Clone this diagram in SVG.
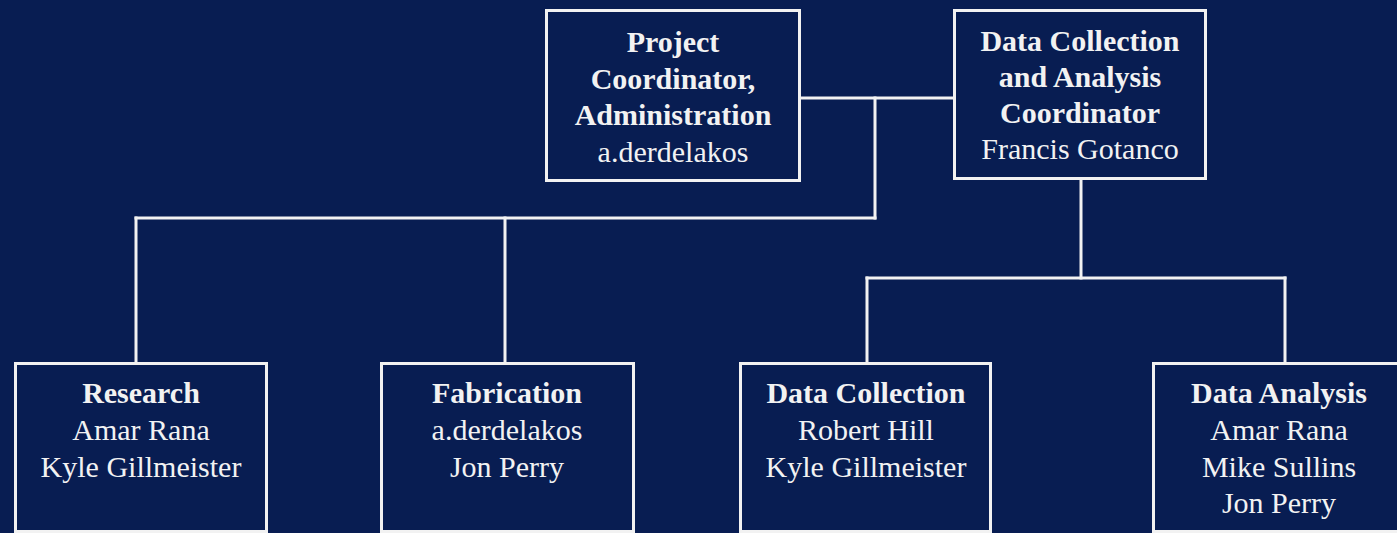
<svg xmlns="http://www.w3.org/2000/svg" width="1397" height="533" viewBox="0 0 1397 533">
<style>
.box{fill:#081d52;stroke:#f2f2f2;stroke-width:3}
.conn line{stroke:#f2f2f2;stroke-width:3;stroke-linecap:square}
text{font-family:"Liberation Serif","Times New Roman",serif;font-size:30px;fill:#f2f2f2;text-anchor:middle}
.b{font-weight:bold}
</style>
<rect width="1397" height="533" fill="#081d52"/>
<g class="conn" id="connectors">
<line x1="801" y1="98" x2="954" y2="98"/>
<line x1="875" y1="98" x2="875" y2="218"/>
<line x1="136" y1="218" x2="875" y2="218"/>
<line x1="136" y1="218" x2="136" y2="363"/>
<line x1="505" y1="218" x2="505" y2="363"/>
<line x1="1081" y1="179" x2="1081" y2="278"/>
<line x1="867" y1="278" x2="1285" y2="278"/>
<line x1="867" y1="278" x2="867" y2="363"/>
<line x1="1285" y1="278" x2="1285" y2="363"/>
</g>
<g id="project-coordinator">
<rect class="box" x="546.5" y="10.5" width="253" height="170"/>
<text x="673" y="52" class="b">Project</text>
<text x="673" y="89" class="b">Coordinator,</text>
<text x="673" y="125" class="b">Administration</text>
<text x="673" y="162">a.derdelakos</text>
</g>
<g id="data-coordinator">
<rect class="box" x="954.5" y="10.5" width="251" height="168"/>
<text x="1080" y="51" class="b">Data Collection</text>
<text x="1080" y="87" class="b">and Analysis</text>
<text x="1080" y="123" class="b">Coordinator</text>
<text x="1080" y="159">Francis Gotanco</text>
</g>
<g id="research">
<rect class="box" x="15.5" y="363.5" width="251" height="168"/>
<text x="141" y="403" class="b">Research</text>
<text x="141" y="440">Amar Rana</text>
<text x="141" y="477">Kyle Gillmeister</text>
</g>
<g id="fabrication">
<rect class="box" x="381.5" y="363.5" width="252" height="168"/>
<text x="507" y="403" class="b">Fabrication</text>
<text x="507" y="440">a.derdelakos</text>
<text x="507" y="477">Jon Perry</text>
</g>
<g id="data-collection">
<rect class="box" x="740.5" y="363.5" width="250" height="168"/>
<text x="866" y="403" class="b">Data Collection</text>
<text x="866" y="440">Robert Hill</text>
<text x="866" y="477">Kyle Gillmeister</text>
</g>
<g id="data-analysis">
<rect class="box" x="1153.5" y="363.5" width="252" height="168"/>
<text x="1279" y="403" class="b">Data Analysis</text>
<text x="1279" y="440">Amar Rana</text>
<text x="1279" y="477">Mike Sullins</text>
<text x="1279" y="513">Jon Perry</text>
</g>
</svg>
